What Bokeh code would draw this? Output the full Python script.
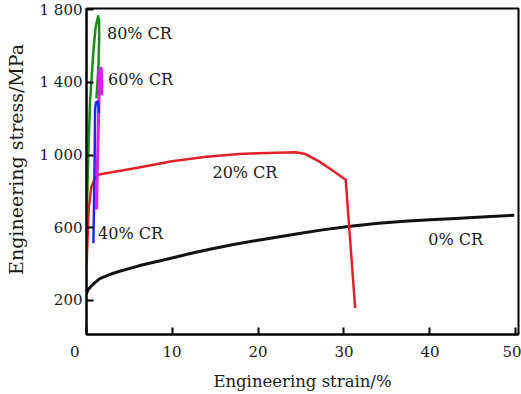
from bokeh.plotting import figure
from bokeh.models import FixedTicker, Range1d
from bokeh.embed import file_html
from bokeh.resources import INLINE
from bokeh.core.properties import value

# 0% CR
cr0_x = [0.05, 0.2, 0.5, 1.0, 1.6, 2.3, 3.0, 4.0, 5.1, 6.5, 8.0, 10.0, 12.0, 14.4, 17.0,
         20.0, 22.5, 25.0, 27.5, 30.5, 34.0, 37.0, 40.0, 43.0, 46.0, 49.8]
cr0_y = [235, 255, 272, 295, 318, 332, 345, 360, 375, 393, 410, 432, 455, 480, 505,
         530, 549, 568, 587, 606, 624, 634, 643, 650, 658, 668]
# 20% CR
cr20_x = [0.05, 0.3, 0.6, 1.0, 1.5, 3.0, 6.0, 10.0, 14.0, 17.8, 20.0, 24.4, 25.5, 27.1, 28.5, 30.2, 31.3]
cr20_y = [380, 700, 820, 870, 893, 905, 930, 965, 990, 1005, 1010, 1015, 1005, 965, 920, 864, 156]
# 80% CR
cr80_x = [0.05, 0.08, 0.27, 0.46, 0.85, 1.1, 1.4, 1.52, 1.52, 1.45, 1.3, 1.2]
cr80_y = [400, 670, 1020, 1295, 1571, 1700, 1765, 1740, 1650, 1500, 1380, 1313]
# 60% CR
cr60_x = [1.23, 1.3, 1.4, 1.5, 1.55, 1.6, 1.75, 1.82, 1.82]
cr60_y = [700, 900, 1100, 1300, 1420, 1470, 1480, 1440, 1330]
# 40% CR
cr40_x = [0.85, 0.92, 0.98, 1.02, 1.05, 1.15, 1.3, 1.45, 1.5]
cr40_y = [514, 700, 900, 1100, 1250, 1290, 1295, 1280, 1230]

x_ticks = [0.06, 10, 20, 30, 40, 50]
x_tick_labels = {0.06: "0\u00a0\u00a0\u00a0\u00a0\u00a0"}
y_ticks = [200, 600, 1000, 1400, 1800]
y_tick_labels = {200: "200", 600: "600", 1000: "1 000", 1400: "1 400", 1800: "1 800"}

labels = ["80% CR", "60% CR", "40% CR", "20% CR", "0% CR"]
label_x = [2.43, 2.55, 1.39, 14.7, 39.8]
label_y = [1672, 1417, 565, 901, 532]

FONT = "DejaVu Serif"
TXT = "#1a1a1a"

p = figure(width=521, height=394, output_backend="svg", toolbar_location=None,
           x_range=Range1d(0.05, 50.3), y_range=Range1d(10, 1808),
           min_border_left=86, min_border_right=3, min_border_top=8, min_border_bottom=60)
p.background_fill_color = "white"
p.border_fill_color = "white"
p.outline_line_color = "black"
p.outline_line_width = 2
p.xgrid.visible = False
p.ygrid.visible = False

for ax in (p.xaxis[0], p.yaxis[0]):
    ax.axis_line_color = "black"
    ax.axis_line_width = 2
    ax.major_tick_in = 7
    ax.major_tick_out = 0
    ax.minor_tick_line_color = None
    ax.major_tick_line_color = "black"
    ax.major_tick_line_width = 2
    ax.major_label_text_font = FONT
    ax.major_label_text_font_size = "15px"
    ax.major_label_text_color = TXT
    ax.axis_label_text_font = FONT
    ax.axis_label_text_font_style = "normal"
    ax.axis_label_text_color = TXT

p.xaxis.ticker = FixedTicker(ticks=x_ticks)
p.xaxis.major_label_overrides = x_tick_labels
p.yaxis.ticker = FixedTicker(ticks=y_ticks)
p.yaxis.major_label_overrides = y_tick_labels
p.xaxis.axis_label = "Engineering strain/%"
p.yaxis.axis_label = "\u00a0\u00a0\u00a0\u00a0Engineering stress/MPa"
p.xaxis.axis_label_text_font_size = "16.5px"
p.yaxis.axis_label_text_font_size = "19px"
p.xaxis.major_label_standoff = 8
p.yaxis.major_label_standoff = 4
p.xaxis.axis_label_standoff = 8
p.yaxis.axis_label_standoff = 10

p.line(cr0_x, cr0_y, line_color="#111111", line_width=3, line_join="round")
p.line(cr20_x, cr20_y, line_color="#e3202a", line_width=2.5, line_join="round")
p.line(cr80_x, cr80_y, line_color="#1a8a1a", line_width=2.5, line_join="round")
p.line(cr60_x, cr60_y, line_color="#d822e8", line_width=3, line_join="round")
p.line(cr40_x, cr40_y, line_color="#2424e6", line_width=2.5, line_join="round")

p.text(x=label_x, y=label_y, text=labels, text_font=value(FONT), text_font_size="16px",
       text_align="left", text_baseline="middle", text_color=TXT)

open("out.html", "w").write(file_html(p, INLINE))
